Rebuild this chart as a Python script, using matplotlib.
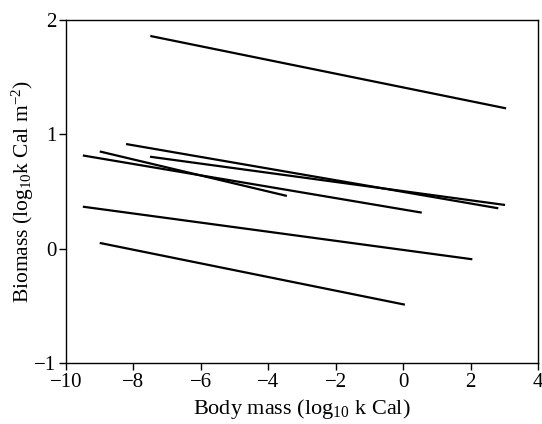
import matplotlib
matplotlib.use("Agg")
import matplotlib.pyplot as plt

# Each line: start x, start y, end x, end y
x_start = [-7.5, -8.22, -7.51, -9.0, -9.5, -9.5, -9.0]
y_start = [1.86, 0.915, 0.804, 0.85, 0.815, 0.367, 0.05]
x_end = [3.05, 2.82, 3.02, -3.45, 0.55, 2.05, 0.05]
y_end = [1.227, 0.353, 0.382, 0.461, 0.315, -0.093, -0.49]

plt.rcParams['font.family'] = ['Liberation Serif', 'DejaVu Serif']
plt.rcParams['mathtext.fontset'] = 'custom'
plt.rcParams['mathtext.rm'] = 'Liberation Serif'
plt.rcParams['mathtext.it'] = 'Liberation Serif:italic'

fig = plt.figure(figsize=(5.42, 4.24), dpi=100)
ax = fig.add_axes([0.1218, 0.1439, 0.871, 0.809])

for xs, ys, xe, ye in zip(x_start, y_start, x_end, y_end):
    ax.plot([xs, xe], [ys, ye], color='black', lw=1.6, solid_capstyle='butt')

ax.set_xlim(-10, 4)
ax.set_ylim(-1, 2)
ax.set_xticks([-10, -8, -6, -4, -2, 0, 2, 4])
ax.set_yticks([-1, 0, 1, 2])
ax.set_xticklabels(['\u221210', '\u22128', '\u22126', '\u22124', '\u22122', '0', '2', '4'])
ax.set_yticklabels(['\u22121', '0', '1', '2'])
ax.tick_params(direction='out', length=5, width=1, labelsize=15, pad=2)
for s in ax.spines.values():
    s.set_linewidth(1)

ax.set_xlabel(r'Body mass (log$_{10}$ k Cal)', fontsize=16, labelpad=4)
ax.set_ylabel(r'Biomass (log$_{10}$k Cal m$^{-2}$)', fontsize=15.5, labelpad=-1)

fig.savefig('out.png', dpi=100)
